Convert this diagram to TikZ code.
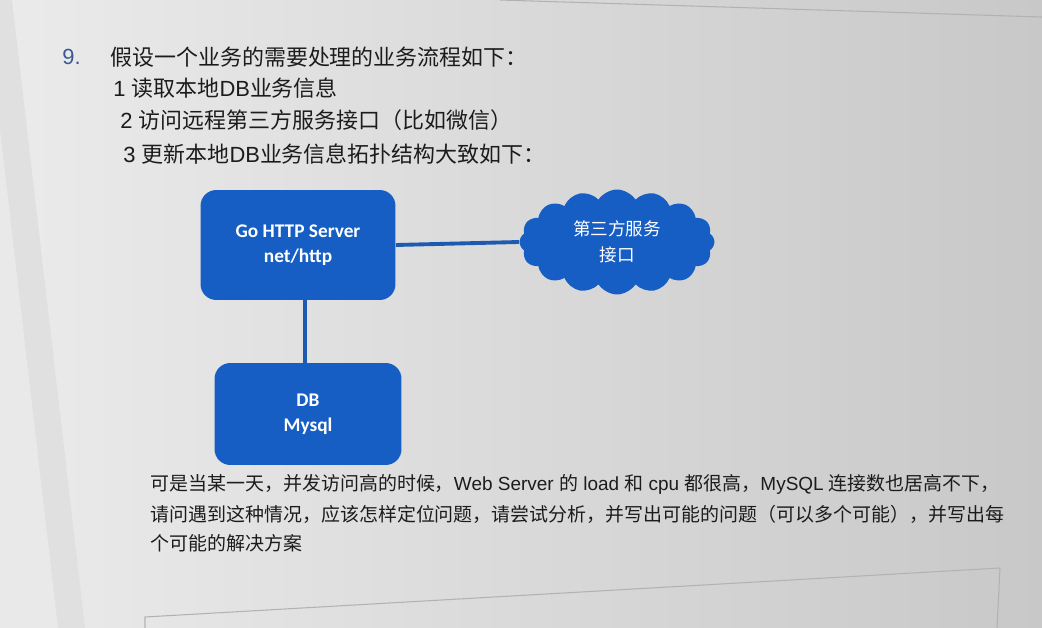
\documentclass[tikz,border=0pt]{standalone}
\usepackage{fontspec}
\setmainfont{Liberation Sans}
\newfontfamily\zhfont{Noto Sans CJK SC}
\newfontfamily\boxfont{Carlito}
\usepackage{xcolor}
\usetikzlibrary{shapes.symbols,positioning}
\definecolor{boxblue}{RGB}{22,94,196}
\definecolor{lineblue}{RGB}{30,90,176}
\definecolor{numblue}{RGB}{60,88,150}
\definecolor{inkgray}{RGB}{28,28,28}
\definecolor{pageleft}{RGB}{235,235,235}
\definecolor{pagemid}{RGB}{231,231,231}
\definecolor{pageright}{RGB}{200,200,200}
\newcommand{\zh}[1]{{\zhfont #1}}

\begin{document}
\begin{tikzpicture}[x=0.02cm,y=-0.02cm,
  srvbox/.style={fill=boxblue,rounded corners=9pt,text=white,align=center,
    font=\boxfont\bfseries\fontsize{11}{14.5}\selectfont},
  cloudbox/.style={cloud,cloud puffs=16,cloud puff arc=115,cloud ignores aspect,
    fill=boxblue,text=white,align=center,inner sep=0pt,
    minimum width=3.9cm,minimum height=2.1cm,
    font=\zhfont\fontsize{10}{14.8}\selectfont},
  link/.style={lineblue,line width=2.2pt},
  qline/.style={anchor=west,inner sep=0pt,text=inkgray,font=\fontsize{12.5}{15}\selectfont},
  aline/.style={anchor=west,inner sep=0pt,text=inkgray,font=\fontsize{10.8}{13}\selectfont}]
  \useasboundingbox (0,0) rectangle (1042,628);
  % screen background
  \shade[left color=pageleft,middle color=pagemid,right color=pageright] (0,0) rectangle (1042,628);
  \fill[gray!24] (0,0) -- (12,0) -- (85,628) -- (0,628) -- cycle;
  \fill[gray!17] (0,130) -- (58,628) -- (0,628) -- cycle;
  \draw[gray!60,line width=0.6pt] (500,0) -- (1042,17);
  \draw[gray!60,line width=0.6pt] (145,628) -- (145,617) -- (1000,568) -- (997,628);

  % question text
  \node[qline,text=numblue] (num) at (62,57) {9.};
  \node[qline] (q0) at (110,57) {\zh{假设一个业务的需要处理的业务流程如下：}};
  \node[qline] (q1) at (113,88) {1 \zh{读取本地}DB\zh{业务信息}};
  \node[qline] (q2) at (120,120) {2 \zh{访问远程第三方服务接口（比如微信）}};
  \node[qline] (q3) at (123,154) {3 \zh{更新本地}DB\zh{业务信息拓扑结构大致如下：}};

  % topology
  \node[srvbox,minimum width=3.9cm,minimum height=2.2cm] (srv) at (298,245) {Go HTTP Server\\net/http};
  \node[srvbox,minimum width=3.74cm,minimum height=2.04cm] (db) at (308,414) {DB\\Mysql};
  \node[cloudbox] (api) at (617,242) {第三方服务\\接口};
  \draw[link] (srv.east) -- (api.west);
  \draw[link] ([xshift=4pt]srv.south) -- ([xshift=4pt]srv.south |- db.north);

  % follow-up text
  \node[aline] (a1) at (150,484) {\zh{可是当某一天，并发访问高的时候，}Web Server \zh{的} load \zh{和} cpu \zh{都很高，}MySQL \zh{连接数也居高不下，}};
  \node[aline] (a2) at (150,514) {\zh{请问遇到这种情况，应该怎样定位问题，请尝试分析，并写出可能的问题（可以多个可能），并写出每}};
  \node[aline] (a3) at (150,543) {\zh{个可能的解决方案}};
\end{tikzpicture}
\end{document}
